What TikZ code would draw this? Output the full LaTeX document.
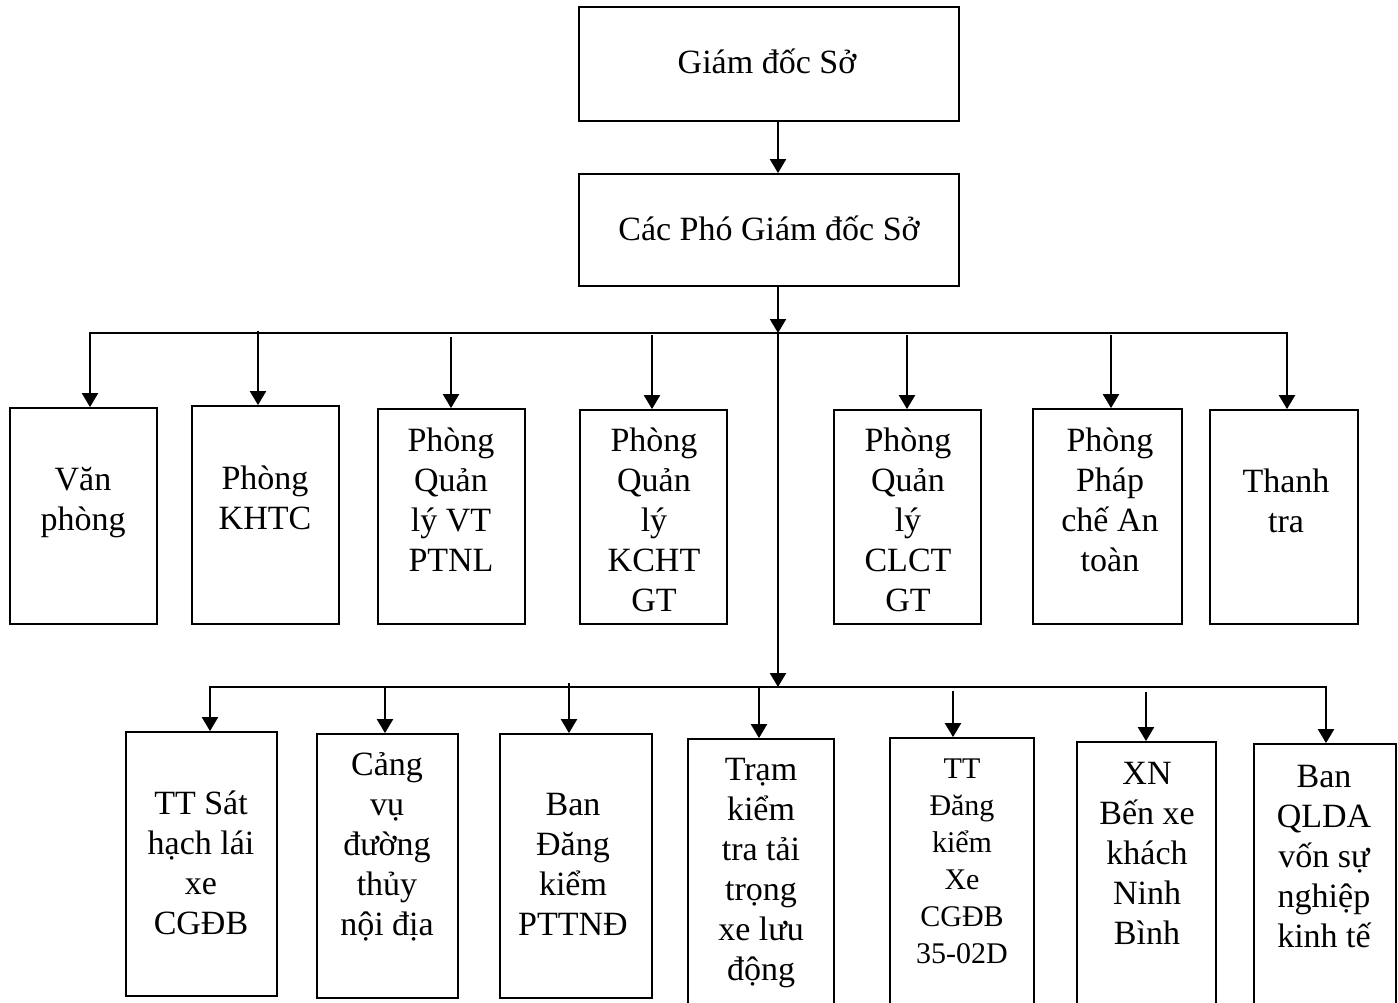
\documentclass[tikz,border=0pt]{standalone}
\usepackage{fontspec}
\setmainfont{Liberation Serif}
\usetikzlibrary{arrows.meta}
\newcommand{\fstrut}{\rule{0pt}{36pt}}
\begin{document}
\begin{tikzpicture}[x=1pt,y=-1pt,
  box/.style={draw,line width=1.8pt,rectangle,inner sep=0pt},
  lbl/.style={anchor=north,inner sep=0pt,align=center,font=\fontsize{34}{40}\selectfont},
  lbls/.style={anchor=north,inner sep=0pt,align=center,font=\fontsize{30}{37}\selectfont},
  conn/.style={line width=2.2pt,line cap=rect},
  arr/.style={line width=2.2pt,-{Triangle[width=16pt,length=14pt]}}]
\useasboundingbox[fill=white] (0,0) rectangle (1398,1002);
\clip (0,0) rectangle (1398,1002);

% boxes
\node[box,minimum width=380pt,minimum height=114pt] (gd) at (769,64) {};
\node[box,minimum width=380pt,minimum height=112pt] (pgd) at (769,230) {};
\node[box,minimum width=147pt,minimum height=216pt] (vp) at (83.5,516) {};
\node[box,minimum width=147pt,minimum height=218pt] (khtc) at (265.5,515) {};
\node[box,minimum width=147pt,minimum height=215pt] (ptnl) at (451.5,516.5) {};
\node[box,minimum width=147pt,minimum height=214pt] (kcht) at (653.5,517) {};
\node[box,minimum width=147pt,minimum height=214pt] (clct) at (907.5,517) {};
\node[box,minimum width=149pt,minimum height=215pt] (pc) at (1107.5,516.5) {};
\node[box,minimum width=148pt,minimum height=214pt] (tt) at (1284,517) {};
\node[box,minimum width=151pt,minimum height=264pt] (sh) at (201.5,864) {};
\node[box,minimum width=141pt,minimum height=264pt] (cv) at (387.5,866) {};
\node[box,minimum width=152pt,minimum height=264pt] (bdk) at (576,866) {};
\node[box,minimum width=146pt,minimum height=271pt] (tram) at (761,874.5) {};
\node[box,minimum width=144pt,minimum height=272pt] (ttdk) at (962,874) {};
\node[box,minimum width=139pt,minimum height=268pt] (xn) at (1146.5,876) {};
\node[box,minimum width=142pt,minimum height=266pt] (qlda) at (1325,877) {};

% labels
\node[lbl] (gdT) at (767,37) {\fstrut Giám đốc Sở};
\node[lbl] (pgdT) at (769,204) {\fstrut Các Phó Giám đốc Sở};
\node[lbl] (vpT) at (83,454) {\fstrut Văn\\phòng};
\node[lbl] (khtcT) at (265,453) {\fstrut Phòng\\KHTC};
\node[lbl] (ptnlT) at (451,415) {\fstrut Phòng\\Quản\\lý VT\\PTNL};
\node[lbl] (kchtT) at (654,415) {\fstrut Phòng\\Quản\\lý\\KCHT\\GT};
\node[lbl] (clctT) at (908,415) {\fstrut Phòng\\Quản\\lý\\CLCT\\GT};
\node[lbl] (pcT) at (1110,415) {\fstrut Phòng\\Pháp\\chế An\\toàn};
\node[lbl] (ttT) at (1286,456) {\fstrut Thanh\\tra};
\node[lbl] (shT) at (201,778) {\fstrut TT Sát\\hạch lái\\xe\\CGĐB};
\node[lbl] (cvT) at (387,739) {\fstrut Cảng\\vụ\\đường\\thủy\\nội địa};
\node[lbl] (bdkT) at (573,779) {\fstrut Ban\\Đăng\\kiểm\\PTTNĐ};
\node[lbl] (tramT) at (761,744) {\fstrut Trạm\\kiểm\\tra tải\\trọng\\xe lưu\\động};
\node[lbls] (ttdkT) at (962,742) {\fstrut TT\\Đăng\\kiểm\\Xe\\CGĐB\\35-02D};
\node[lbl] (xnT) at (1147,748) {\fstrut XN\\Bến xe\\khách\\Ninh\\Bình};
\node[lbl] (qldaT) at (1324,751) {\fstrut Ban\\QLDA\\vốn sự\\nghiệp\\kinh tế};

% bus coordinates
\coordinate (t0) at (778,333);
\coordinate (b0) at (778,687);
\coordinate (tl) at (90,333);
\coordinate (tr) at (1287,333);
\coordinate (bl) at (210,687);
\coordinate (br) at (1326,687);
\coordinate (a2) at (258,331);
\coordinate (a3) at (451,337);
\coordinate (a4) at (652,335);
\coordinate (a5) at (907,335);
\coordinate (a6) at (1111,335);
\coordinate (c2) at (385,688);
\coordinate (c3) at (569,683);
\coordinate (c4) at (759,688);
\coordinate (c5) at (953,691);
\coordinate (c6) at (1146,692);

% main trunk
\draw[arr] (gd.south -| t0) -- (pgd.north -| t0);
\draw[arr] (pgd.south -| t0) -- (t0);
\draw[arr] (t0) -- (b0);

% upper bus
\draw[conn] (tl) -- (tr);
\draw[arr] (tl) -- (tl |- vp.north);
\draw[arr] (a2) -- (a2 |- khtc.north);
\draw[arr] (a3) -- (a3 |- ptnl.north);
\draw[arr] (a4) -- (a4 |- kcht.north);
\draw[arr] (a5) -- (a5 |- clct.north);
\draw[arr] (a6) -- (a6 |- pc.north);
\draw[arr] (tr) -- (tr |- tt.north);

% lower bus
\draw[conn] (bl) -- (br);
\draw[arr] (bl) -- (bl |- sh.north);
\draw[arr] (c2) -- (c2 |- cv.north);
\draw[arr] (c3) -- (c3 |- bdk.north);
\draw[arr] (c4) -- (c4 |- tram.north);
\draw[arr] (c5) -- (c5 |- ttdk.north);
\draw[arr] (c6) -- (c6 |- xn.north);
\draw[arr] (br) -- (br |- qlda.north);
\end{tikzpicture}
\end{document}
